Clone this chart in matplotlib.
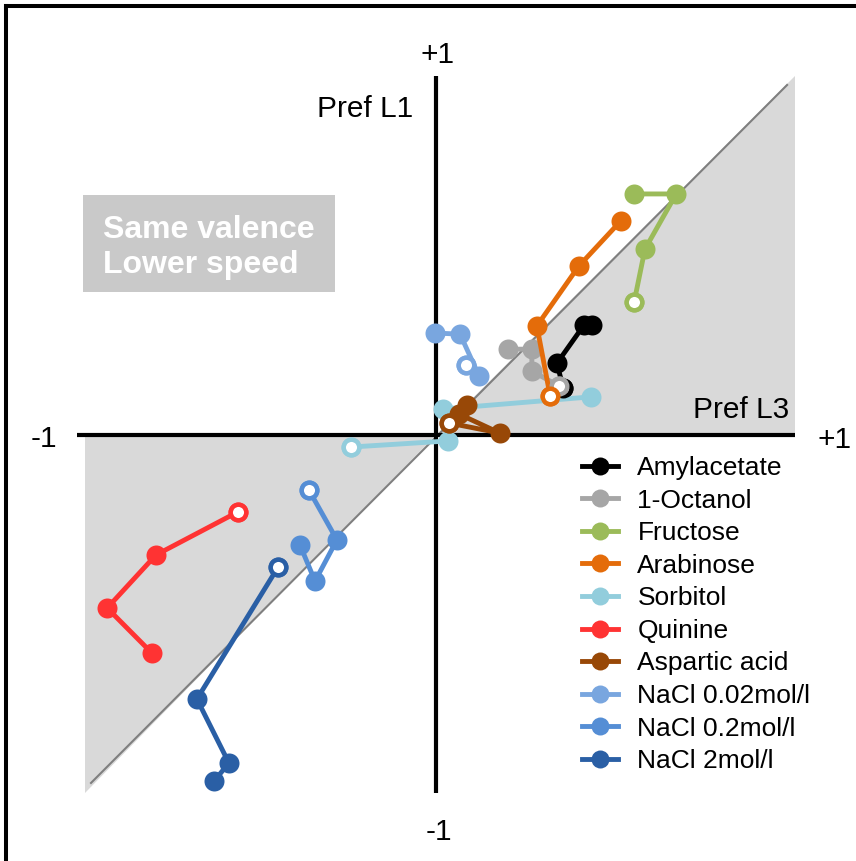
import matplotlib
matplotlib.use("Agg")
import matplotlib.pyplot as plt
from matplotlib.patches import Polygon, Rectangle
from matplotlib.lines import Line2D

plt.rcParams['font.family'] = ['Liberation Sans', 'DejaVu Sans']

# series: pref L3 (x) and pref L1 (y); last point of each chain is the open marker
names = ['Amylacetate', '1-Octanol', 'Fructose', 'Arabinose', 'Sorbitol',
         'Quinine', 'Aspartic acid', 'NaCl 0.02mol/l', 'NaCl 0.2mol/l', 'NaCl 2mol/l']
colors = ['#000000', '#a6a6a6', '#9bbb59', '#e46c0a', '#92cddc',
          '#ff3333', '#984807', '#79a6df', '#558ed5', '#2a5fa5']

amyl_x = [0.435, 0.412, 0.337, 0.354]
amyl_y = [0.305, 0.305, 0.199, 0.130]
octa_x = [0.201, 0.267, 0.267, 0.343]
octa_y = [0.238, 0.238, 0.177, 0.135]
fruc_x = [0.552, 0.669, 0.582, 0.552]
fruc_y = [0.671, 0.671, 0.517, 0.370]
arab_x = [0.515, 0.398, 0.281, 0.318]
arab_y = [0.596, 0.470, 0.303, 0.107]
sorb_x = [0.432, 0.019, 0.033, -0.237]
sorb_y = [0.105, 0.071, -0.018, -0.035]
quin_x = [-0.791, -0.916, -0.780, -0.552]
quin_y = [-0.610, -0.484, -0.336, -0.216]
asp_x = [0.086, 0.064, 0.178, 0.036]
asp_y = [0.082, 0.057, 0.004, 0.032]
na002_x = [-0.003, 0.067, 0.120, 0.084]
na002_y = [0.283, 0.280, 0.163, 0.194]
na02_x = [-0.379, -0.337, -0.276, -0.354]
na02_y = [-0.308, -0.409, -0.294, -0.155]
na2_x = [-0.618, -0.577, -0.666, -0.440]
na2_y = [-0.967, -0.916, -0.738, -0.370]

xs = [amyl_x, octa_x, fruc_x, arab_x, sorb_x, quin_x, asp_x, na002_x, na02_x, na2_x]
ys = [amyl_y, octa_y, fruc_y, arab_y, sorb_y, quin_y, asp_y, na002_y, na02_y, na2_y]

W, H = 856, 861
fig = plt.figure(figsize=(W / 100, H / 100), dpi=100)
ax = fig.add_axes([0, 0, 1, 1])
# pixel mapping: x = (px-436)/359, y = (434.5-py)/358.5
ax.set_xlim(-436 / 359, (W - 436) / 359)
ax.set_ylim((434.5 - H) / 358.5, 434.5 / 358.5)
ax.axis('off')

# shaded regions and diagonal
ax.add_patch(Polygon([(0, 0), (1, 0), (1, 1)], closed=True, fc='#d9d9d9', ec='none', zorder=0))
ax.add_patch(Polygon([(0, 0), (-0.978, 0), (-0.978, -1)], closed=True, fc='#d9d9d9', ec='none', zorder=0))
ax.plot([-0.961, 0.978], [-0.972, 0.975], color='#7f7f7f', lw=1.5, zorder=1)

# axes cross
ax.plot([-1, 1], [0, 0], color='black', lw=3, solid_capstyle='butt', zorder=2)
ax.plot([0, 0], [-1, 1], color='black', lw=3, solid_capstyle='butt', zorder=2)

fs = 21.5
ax.text(0.003, 1.036, '+1', fontsize=fs, ha='center', va='baseline')
ax.text(0.007, -1.131, '-1', fontsize=fs, ha='center', va='baseline')
ax.text(1.111, -0.038, '+1', fontsize=fs, ha='center', va='baseline')
ax.text(-1.093, -0.035, '-1', fontsize=fs, ha='center', va='baseline')
ax.text(-0.064, 0.886, 'Pref L1', fontsize=fs, ha='right', va='baseline')
ax.text(0.983, 0.046, 'Pref L3', fontsize=fs, ha='right', va='baseline')

# annotation box
ax.add_patch(Rectangle((-0.983, 0.397), 0.702, 0.271, fc='#c9c9c9', ec='none', zorder=1))
ax.text(-0.928, 0.548, 'Same valence', fontsize=23, fontweight='bold', color='white',
        ha='left', va='baseline', zorder=2)
ax.text(-0.928, 0.450, 'Lower speed', fontsize=23, fontweight='bold', color='white',
        ha='left', va='baseline', zorder=2)

ms = 14.4
handles = []
for i, (x, y) in enumerate(zip(xs, ys)):
    h, = ax.plot(x, y, color=colors[i], lw=3.5, marker='o', ms=ms, mew=0,
                 label=names[i], zorder=3 + i * 0.01)
    handles.append(h)
for i, (x, y) in enumerate(zip(xs, ys)):
    ax.plot(x[-1], y[-1], marker='o', ms=11.2, mew=3.2, mfc='white',
            mec=colors[i], ls='none', zorder=4 + i * 0.01)

ax.legend(handles=handles, loc='upper left', bbox_to_anchor=(582 / W, 1 - 456 / H),
          frameon=False, fontsize=19, handlelength=1.38, handletextpad=0.72,
          labelspacing=0.325, borderpad=0, borderaxespad=0, markerscale=0.9)

# frame around the panel (top and left edges visible)
fig.add_artist(Line2D([6 / W, 6 / W], [0, 1 - 6 / H], color='black', lw=2.9,
                      transform=fig.transFigure))
fig.add_artist(Line2D([6 / W, 1], [1 - 6 / H, 1 - 6 / H], color='black', lw=2.9,
                      transform=fig.transFigure))

fig.savefig('out.png', dpi=100)
